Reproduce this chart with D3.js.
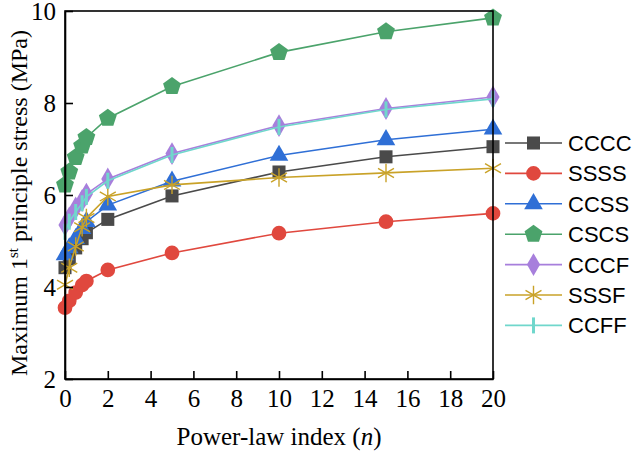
<!DOCTYPE html>
<html>
<head>
<meta charset="utf-8">
<script src="https://cdn.jsdelivr.net/npm/d3@7"></script>
<style>
  body { margin: 0; background: #fff; }
  svg { display: block; }
</style>
</head>
<body>
<svg id="chart" width="640" height="455"></svg>
<script>
// power-law index values
const nValues = [0, 0.2, 0.5, 0.8, 1, 2, 5, 10, 15, 20];

// series values (MPa)
const CCCC = [4.42, 4.62, 4.85, 5.05, 5.18, 5.47, 5.98, 6.5, 6.83, 7.05];
const SSSS = [3.55, 3.7, 3.88, 4.04, 4.13, 4.37, 4.74, 5.17, 5.42, 5.6];
const CCSS = [4.7, 4.85, 5.05, 5.27, 5.42, 5.78, 6.3, 6.86, 7.2, 7.43];
const CSCS = [6.22, 6.5, 6.82, 7.07, 7.25, 7.67, 8.36, 9.1, 9.55, 9.85];
const CCCF = [5.35, 5.5, 5.72, 5.88, 6.02, 6.35, 6.9, 7.51, 7.88, 8.13];
const SSSF = [4.05, 4.42, 4.88, 5.3, 5.5, 5.97, 6.22, 6.38, 6.48, 6.58];
const CCFF = [5.2, 5.42, 5.63, 5.82, 5.96, 6.31, 6.87, 7.48, 7.86, 8.09];

const seriesNames = ['CCCC', 'SSSS', 'CCSS', 'CSCS', 'CCCF', 'SSSF', 'CCFF'];
const seriesValues = [CCCC, SSSS, CCSS, CSCS, CCCF, SSSF, CCFF];

const xTicks = [0, 2, 4, 6, 8, 10, 12, 14, 16, 18, 20];
const yTicks = [2, 4, 6, 8, 10];

const styles = {
  CCCC: { line: '#4a4a4a', fill: '#4a4a4a', shape: 'square' },
  SSSS: { line: '#e0483e', fill: '#e0483e', shape: 'circle' },
  CCSS: { line: '#2f6fd6', fill: '#2f6fd6', shape: 'triangle' },
  CSCS: { line: '#4ba36b', fill: '#4ba36b', shape: 'pentagon' },
  CCCF: { line: '#a77fdc', fill: '#a77fdc', shape: 'diamond' },
  SSSF: { line: '#c9a228', fill: 'none', shape: 'asterisk' },
  CCFF: { line: '#70d7cc', fill: '#70d7cc', shape: 'bar' },
};

const M = { left: 65, right: 493, top: 11, bottom: 379 };
const serif = '"Liberation Serif", "Times New Roman", serif';

const svg = d3.select('#chart');

const x = d3.scaleLinear().domain([0, 20]).range([M.left, M.right]);
const y = d3.scaleLinear().domain([2, 10]).range([M.bottom, M.top]);

const pentagon = {
  draw(ctx, size) {
    const r = Math.sqrt(size / 2.38);
    for (let i = 0; i < 5; i++) {
      const a = -Math.PI / 2 + (i * 2 * Math.PI) / 5;
      const px = r * Math.cos(a), py = r * Math.sin(a);
      if (i === 0) ctx.moveTo(px, py);
      else ctx.lineTo(px, py);
    }
    ctx.closePath();
  },
};

const markerPath = (shape) => {
  switch (shape) {
    case 'square': return d3.symbol(d3.symbolSquare, 170)();
    case 'circle': return d3.symbol(d3.symbolCircle, 170)();
    case 'triangle': return d3.symbol(d3.symbolTriangle, 150)();
    case 'pentagon': return d3.symbol(pentagon, 210)();
    case 'diamond': return d3.symbol(d3.symbolDiamond, 150)();
    case 'asterisk': return d3.symbol(d3.symbolAsterisk, 240)();
    case 'bar': return 'M-1.5,-8h3v16h-3z';
  }
};

const drawMarker = (g, name, cx, cy) => {
  const s = styles[name];
  const m = g.append('path')
    .attr('d', markerPath(s.shape))
    .attr('transform', `translate(${cx},${cy})`);
  if (s.shape === 'asterisk') {
    m.attr('fill', 'none').attr('stroke', s.line).attr('stroke-width', 1.4);
  } else {
    m.attr('fill', s.fill).attr('stroke', 'none');
  }
};

// series
const line = d3.line().x((d) => x(d[0])).y((d) => y(d[1]));
const plot = svg.append('g').attr('id', 'series');

seriesNames.forEach((name, i) => {
  const pts = nValues.map((n, j) => [n, seriesValues[i][j]]);
  const g = plot.append('g').attr('id', `series-${name}`);
  g.append('path')
    .datum(pts)
    .attr('d', line)
    .attr('fill', 'none')
    .attr('stroke', styles[name].line)
    .attr('stroke-width', 1.6);
  pts.forEach((p) => drawMarker(g, name, x(p[0]), y(p[1])));
});

// frame
svg.append('rect')
  .attr('x', M.left)
  .attr('y', M.top)
  .attr('width', M.right - M.left)
  .attr('height', M.bottom - M.top)
  .attr('fill', 'none')
  .attr('stroke', '#000')
  .attr('stroke-width', 1.6);

// axes (ticks inside)
const xAxis = svg.append('g')
  .attr('transform', `translate(0,${M.bottom})`)
  .call(d3.axisBottom(x).tickValues(xTicks).tickSizeInner(-8).tickSizeOuter(0).tickPadding(10));
const yAxis = svg.append('g')
  .attr('transform', `translate(${M.left},0)`)
  .call(d3.axisLeft(y).tickValues(yTicks).tickSizeInner(-8).tickSizeOuter(0).tickPadding(9));

[xAxis, yAxis].forEach((a) => {
  a.select('.domain').attr('stroke', '#000').attr('stroke-width', 1.6);
  a.selectAll('.tick line').attr('stroke', '#000').attr('stroke-width', 1.6);
  a.selectAll('.tick text')
    .attr('fill', '#000')
    .style('font-family', serif)
    .style('font-size', '25px');
});

// axis titles
svg.append('text')
  .attr('x', (M.left + M.right) / 2)
  .attr('y', 445)
  .attr('text-anchor', 'middle')
  .style('font-family', serif)
  .style('font-size', '25px')
  .call((t) => {
    t.append('tspan').text('Power-law index (');
    t.append('tspan').style('font-style', 'italic').text('n');
    t.append('tspan').text(')');
  });

svg.append('text')
  .attr('transform', `translate(27,${(M.top + M.bottom) / 2 + 8}) rotate(-90)`)
  .attr('text-anchor', 'middle')
  .style('font-family', serif)
  .style('font-size', '24px')
  .call((t) => {
    t.append('tspan').text('Maximum 1');
    t.append('tspan').attr('dy', -9).style('font-size', '15px').text('st');
    t.append('tspan').attr('dy', 9).text(' principle stress (MPa)');
  });

// legend
const legend = svg.append('g').attr('id', 'legend');
seriesNames.forEach((name, i) => {
  const ly = 143 + i * 30.4;
  const g = legend.append('g');
  g.append('line')
    .attr('x1', 505).attr('x2', 562)
    .attr('y1', ly).attr('y2', ly)
    .attr('stroke', styles[name].line)
    .attr('stroke-width', 1.6);
  drawMarker(g, name, 533.5, ly);
  g.append('text')
    .attr('x', 568)
    .attr('y', ly + 8)
    .style('font-family', '"Liberation Sans", Arial, sans-serif')
    .style('font-size', '22px')
    .attr('fill', '#000')
    .text(name);
});
</script>
</body>
</html>
